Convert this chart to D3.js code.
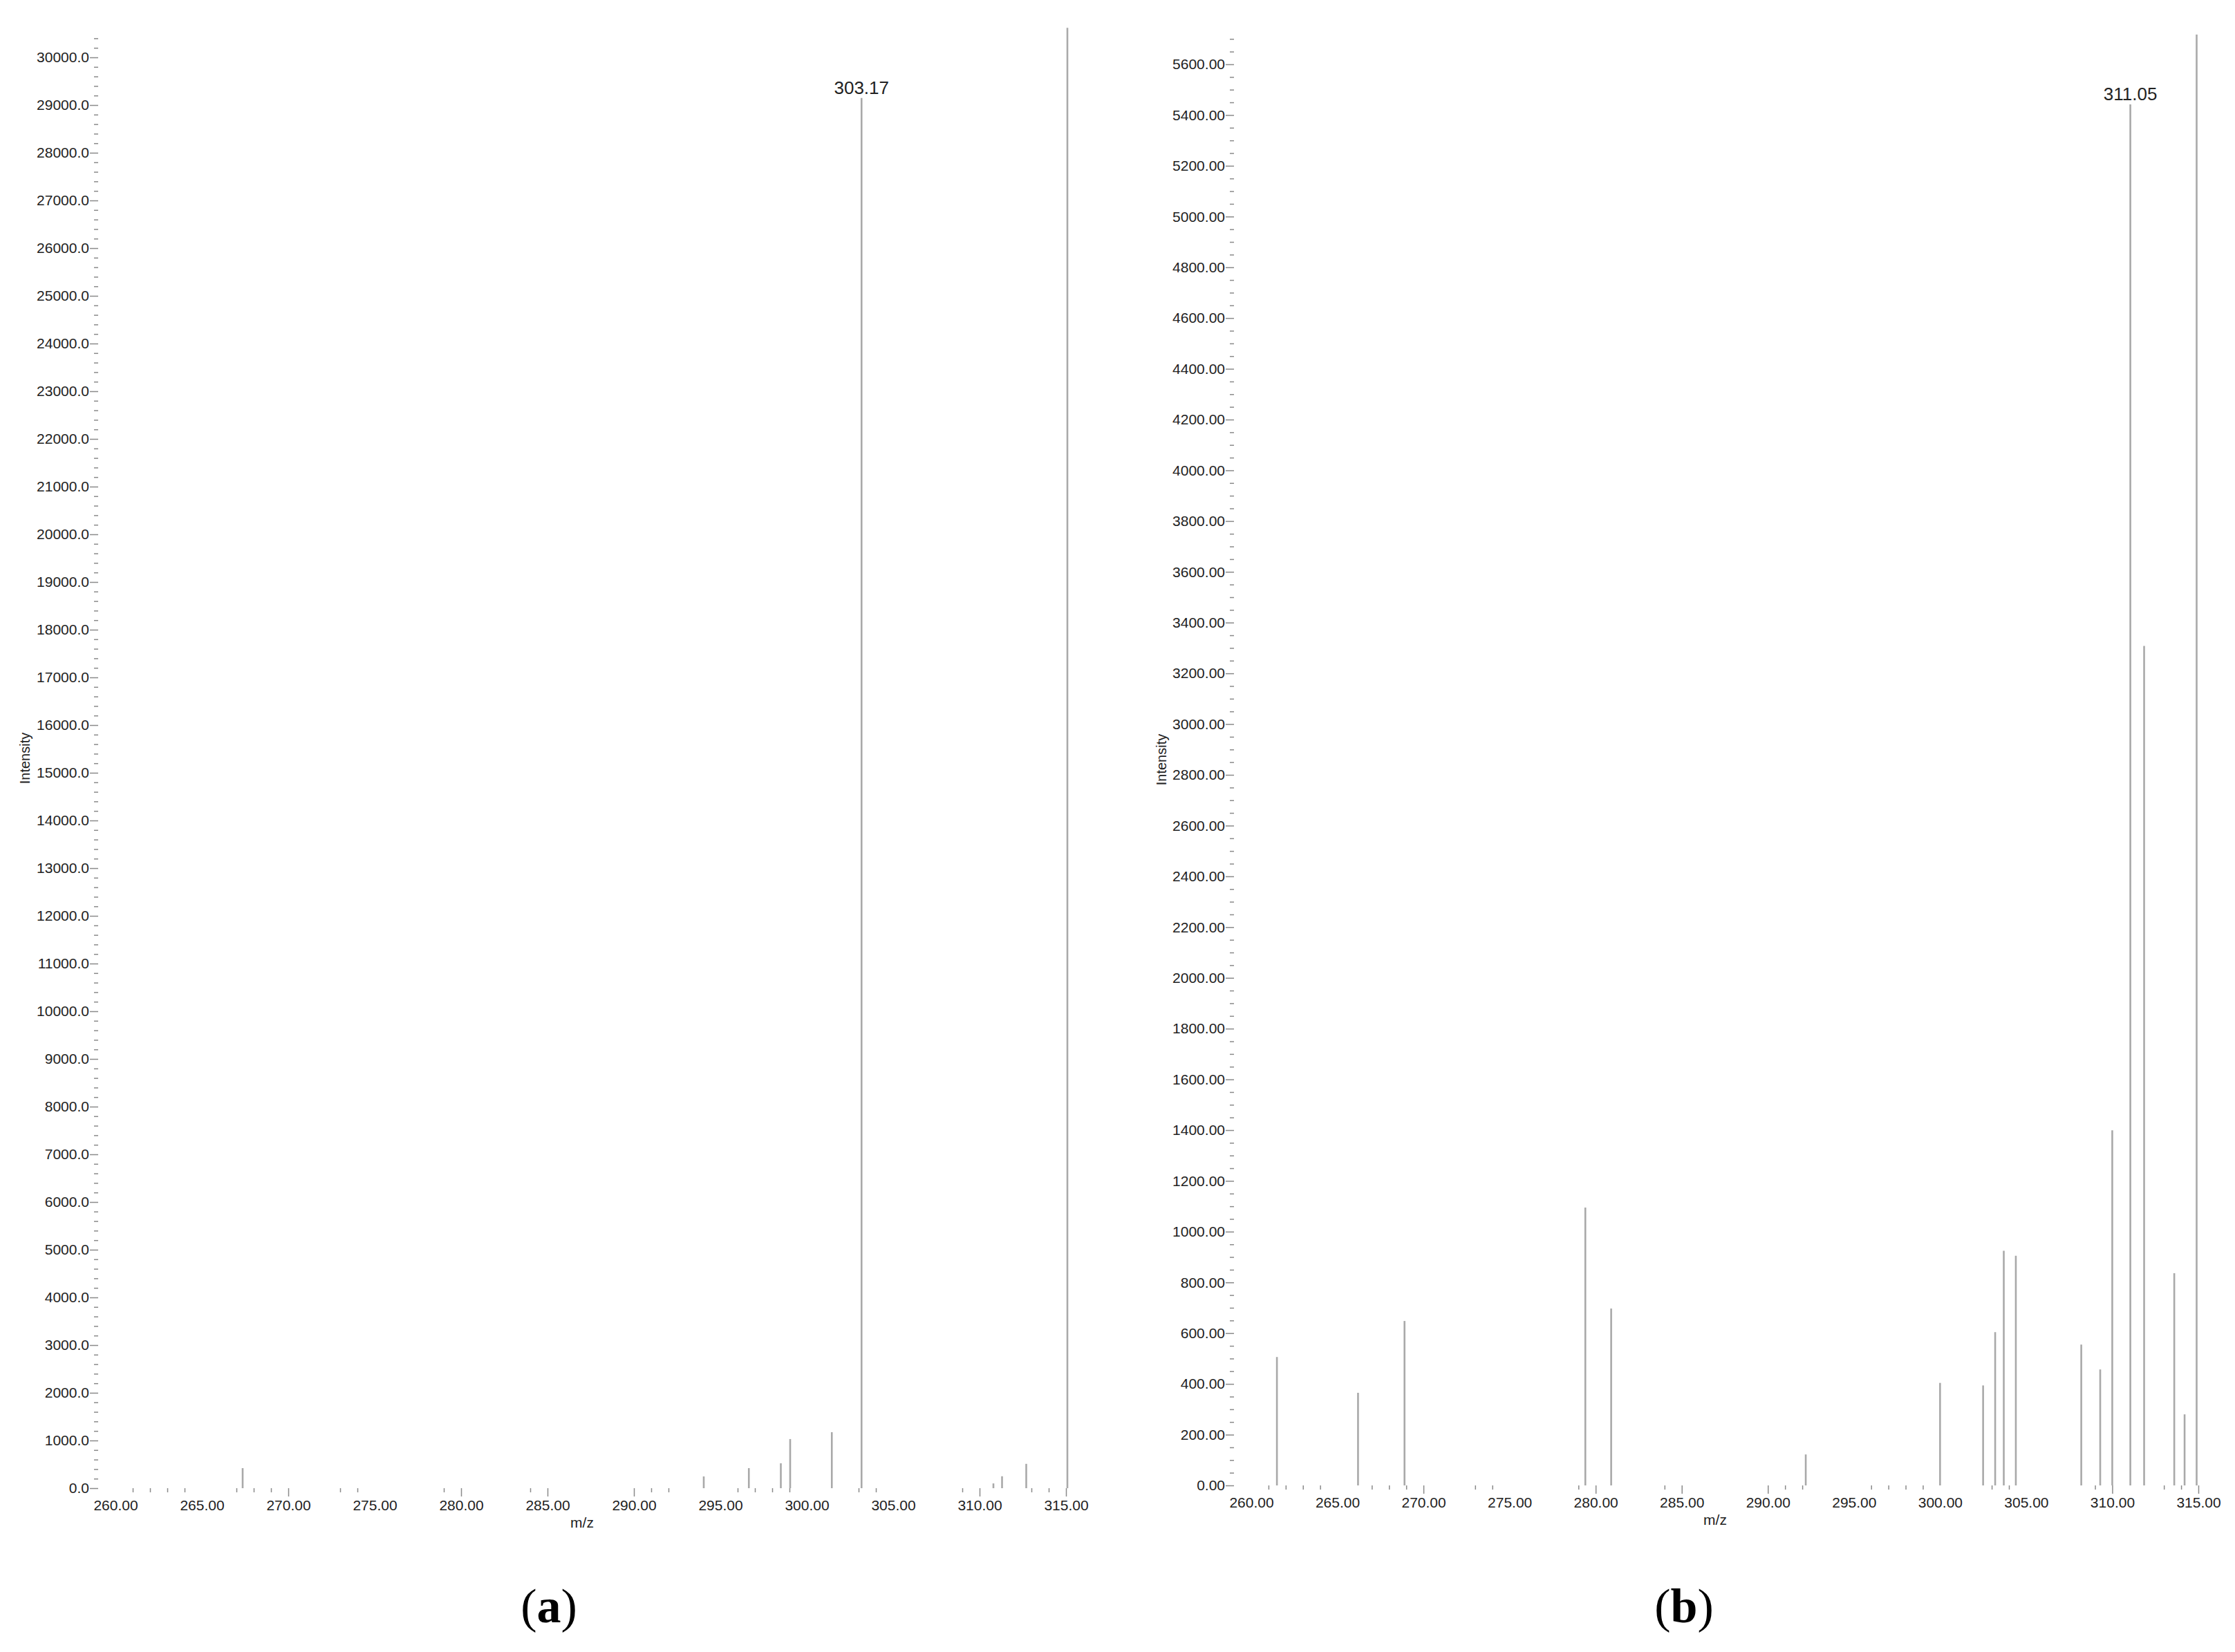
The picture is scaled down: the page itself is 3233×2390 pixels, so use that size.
<!DOCTYPE html>
<html>
<head>
<meta charset="utf-8">
<script src="https://cdn.jsdelivr.net/npm/d3@7/dist/d3.min.js"></script>
<style>
  html, body { margin: 0; padding: 0; background: #ffffff; }
  svg { display: block; }
  text { font-family: "Liberation Sans", Arial, sans-serif; fill: #222; }
</style>
</head>
<body>
<svg id="chart" width="3233" height="2390"></svg>
<script>
// ---------------- DATA ----------------
// Panel (a)
const mzA = [267.36, 294.04, 296.65, 298.50, 299.04, 301.45, 303.17, 310.80, 311.30, 312.70, 315.08];
const intensityA = [420, 246, 420, 522, 1030, 1174, 29150, 100, 250, 510, 30620];
const peakLabelA = { mz: 303.17, text: "303.17" };

// Panel (b)
const mzB = [261.49, 266.20, 268.90, 279.40, 280.90, 292.20, 300.00, 302.50, 303.20, 303.70, 304.40,
             308.20, 309.30, 310.00, 311.05, 311.85, 313.60, 314.20, 314.90];
const intensityB = [506, 365, 648, 1095, 697, 122, 404, 394, 604, 925, 905,
                    555, 457, 1399, 5442, 3308, 836, 280, 5717];
const peakLabelB = { mz: 311.05, text: "311.05" };

// Axis ticks (m/z)
const xLabelTicks = [260, 265, 270, 275, 280, 285, 290, 295, 300, 305, 310, 315];
const xMajorTicks = [270, 280, 285, 290, 310, 315];
const xMinorTicks = [261, 262, 263, 264, 267, 268, 269, 273, 274, 279, 284, 291, 292,
                     296, 297, 298, 299, 303, 304, 309, 313, 314];

// Intensity ticks
const yLabelTicksA = d3.range(0, 30001, 1000);
const yMinorTicksA = d3.range(0, 30401, 200).filter(v => v % 1000 !== 0);
const yLabelTicksB = d3.range(0, 5601, 200);
const yMinorTicksB = d3.range(0, 5701, 50).filter(v => v % 200 !== 0);

const captionA = "a";
const captionB = "b";

// ---------------- DRAW ----------------
const svg = d3.select("#chart");
const tickColor = "#8a8a8a";
const peakColor = "#a9a9a9";

function panel(cfg) {
  const g = svg.append("g");
  const x = d3.scaleLinear().domain([260, 315]).range(cfg.xRange);
  const y = d3.scaleLinear().domain(cfg.yDomain).range(cfg.yRange);
  const base = y(0);

  // Peaks
  g.append("g").selectAll("line")
    .data(cfg.mz.map((m, i) => ({ m, v: cfg.vals[i] })))
    .join("line")
    .attr("x1", d => x(d.m)).attr("x2", d => x(d.m))
    .attr("y1", base).attr("y2", d => y(d.v))
    .attr("stroke", peakColor).attr("stroke-width", 2.6);

  // Peak label
  const li = cfg.mz.indexOf(cfg.label.mz);
  g.append("text")
    .attr("x", x(cfg.label.mz))
    .attr("y", y(cfg.vals[li]) - 6)
    .attr("text-anchor", "middle")
    .attr("font-size", 26)
    .text(cfg.label.text);

  // X axis: minor ticks
  const xMin = g.append("g").attr("transform", `translate(0,${base})`)
    .call(d3.axisBottom(x).tickValues(xMinorTicks).tickSize(6).tickFormat(""));
  const xMaj = g.append("g").attr("transform", `translate(0,${base})`)
    .call(d3.axisBottom(x).tickValues(xMajorTicks).tickSize(12).tickFormat(""));
  const xLab = g.append("g").attr("transform", `translate(0,${base})`)
    .call(d3.axisBottom(x).tickValues(xLabelTicks).tickSize(0).tickPadding(17)
      .tickFormat(d3.format(".2f")));
  [xMin, xMaj, xLab].forEach(a => {
    a.select(".domain").remove();
    a.selectAll("line").attr("stroke", tickColor).attr("stroke-width", 1.5);
  });
  xLab.selectAll("text").attr("font-size", 21).attr("fill", "#222")
    .attr("font-family", "Liberation Sans, Arial, sans-serif");

  // Y axis
  const yMin = g.append("g").attr("transform", `translate(${cfg.yAxisX},0)`)
    .call(d3.axisLeft(y).tickValues(cfg.yMinor).tickSize(6).tickFormat(""));
  const yLab = g.append("g").attr("transform", `translate(${cfg.yAxisX},0)`)
    .call(d3.axisLeft(y).tickValues(cfg.yLabels).tickSize(12).tickPadding(1)
      .tickFormat(d3.format(cfg.yFmt)));
  [yMin, yLab].forEach(a => {
    a.select(".domain").remove();
    a.selectAll("line").attr("stroke", tickColor).attr("stroke-width", 1.5);
  });
  yLab.selectAll("text").attr("font-size", 21).attr("fill", "#222")
    .attr("font-family", "Liberation Sans, Arial, sans-serif");

  // Axis titles
  g.append("text")
    .attr("transform", `translate(${cfg.yTitle[0]},${cfg.yTitle[1]}) rotate(-90)`)
    .attr("text-anchor", "middle")
    .attr("dominant-baseline", "central")
    .attr("font-size", 20)
    .text("Intensity");
  g.append("text")
    .attr("x", cfg.xTitle[0]).attr("y", cfg.xTitle[1])
    .attr("text-anchor", "middle")
    .attr("dominant-baseline", "central")
    .attr("font-size", 21)
    .text("m/z");

  // Caption
  const cap = g.append("text")
    .attr("x", cfg.caption[0]).attr("y", cfg.caption[1])
    .attr("text-anchor", "middle")
    .attr("font-size", 70)
    .style("font-family", "'Liberation Serif', 'Times New Roman', serif")
    .style("fill", "#000");
  cap.append("tspan").text("(");
  cap.append("tspan").attr("font-weight", "bold").text(cfg.captionText);
  cap.append("tspan").text(")");
}

panel({
  mz: mzA, vals: intensityA, label: peakLabelA,
  xRange: [167, 1542], yDomain: [0, 30000], yRange: [2153, 83],
  yAxisX: 142, yLabels: yLabelTicksA, yMinor: yMinorTicksA, yFmt: ".1f",
  yTitle: [36, 1097], xTitle: [842, 2202], caption: [794, 2347], captionText: captionA
});

panel({
  mz: mzB, vals: intensityB, label: peakLabelB,
  xRange: [1810, 3180], yDomain: [0, 5600], yRange: [2149, 93],
  yAxisX: 1785, yLabels: yLabelTicksB, yMinor: yMinorTicksB, yFmt: ".2f",
  yTitle: [1680, 1099], xTitle: [2481, 2198], caption: [2436, 2347], captionText: captionB
});
</script>
</body>
</html>
